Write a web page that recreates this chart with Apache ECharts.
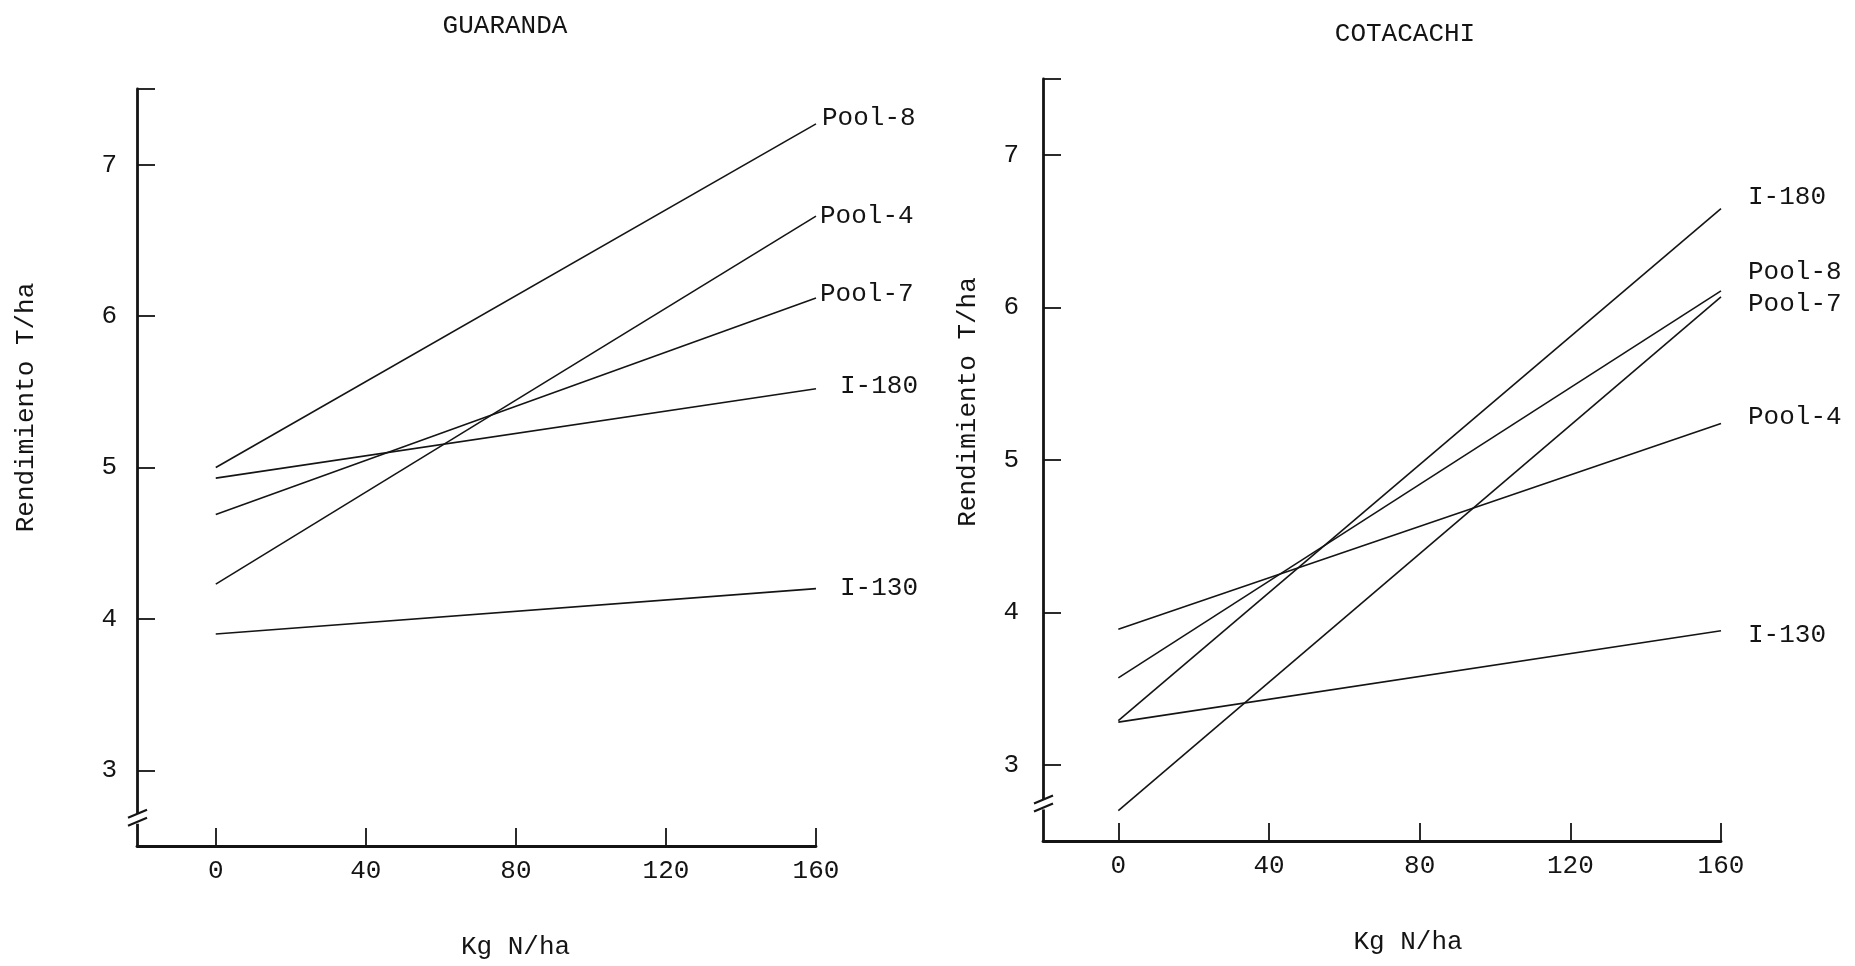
<!DOCTYPE html>
<html>
<head>
<meta charset="utf-8">
<script src="https://cdn.jsdelivr.net/npm/echarts@6/dist/echarts.min.js"></script>
<style>
html,body{margin:0;padding:0;background:#fff;}
#chart{width:1855px;height:966px;}
</style>
</head>
<body>
<div id="chart"></div>
<script>
// ---- data ----
const nitrogen = [0, 160];                 // Kg N/ha
const xTicks = [0, 40, 80, 120, 160];
const yTicks = [3, 4, 5, 6, 7];

const panelTitles = ['GUARANDA', 'COTACACHI'];

// GUARANDA (T/ha at 0 and 160 Kg N/ha)
const guarandaPool8 = [5.00, 7.27];
const guarandaPool4 = [4.23, 6.66];
const guarandaPool7 = [4.69, 6.12];
const guarandaI180  = [4.93, 5.52];
const guarandaI130  = [3.90, 4.20];

// COTACACHI (T/ha at 0 and 160 Kg N/ha)
const cotacachiI180  = [3.29, 6.65];
const cotacachiPool8 = [3.57, 6.11];
const cotacachiPool7 = [2.70, 6.07];
const cotacachiPool4 = [3.89, 5.24];
const cotacachiI130  = [3.28, 3.88];

// ---- chart ----
const FONT = '"Liberation Mono", "DejaVu Sans Mono", monospace';
const INK = '#141414';
const FS = 26;

function makeSeries(name, vals, gi, labelDist, labelDy) {
  return {
    type: 'line', name: name, xAxisIndex: gi, yAxisIndex: gi,
    symbol: 'none', showSymbol: false, silent: true, animation: false,
    lineStyle: { color: INK, width: 1.6 },
    endLabel: { show: true, formatter: name, distance: labelDist,
                offset: [0, labelDy], fontFamily: FONT, fontSize: FS, color: INK },
    data: nitrogen.map((x, i) => [x, vals[i]])
  };
}

function xAxisCfg(gi, min) {
  return {
    gridIndex: gi, type: 'value', min: min, max: 160,
    axisLine: { show: true, onZero: false, lineStyle: { color: INK, width: 2.8 } },
    axisTick: { show: true, inside: true, length: 18, customValues: xTicks,
                lineStyle: { color: INK, width: 1.8 } },
    axisLabel: { show: true, customValues: xTicks, margin: 12, fontFamily: FONT,
                 fontSize: FS, color: INK },
    splitLine: { show: false },
    name: 'Kg N/ha', nameLocation: 'middle', nameGap: 88,
    nameTextStyle: { fontFamily: FONT, fontSize: FS, color: INK,
                     padding: [0, 0, 0, gi === 0 ? 78 : 52] }
  };
}

function yAxisCfg(gi) {
  return {
    gridIndex: gi, type: 'value', min: 2.5, max: 7.5,
    axisLine: { show: true, onZero: false, lineStyle: { color: INK, width: 2.8 } },
    axisTick: { show: true, inside: true, length: 18, customValues: yTicks.concat([7.5]),
                lineStyle: { color: INK, width: 1.8 } },
    axisLabel: { show: true, customValues: yTicks, margin: gi === 0 ? 20 : 24,
                 fontFamily: FONT, fontSize: FS, color: INK },
    splitLine: { show: false },
    name: 'Rendimiento T/ha', nameLocation: 'middle', nameGap: gi === 0 ? 98 : 62,
    nameRotate: 90,
    nameTextStyle: { fontFamily: FONT, fontSize: FS, color: INK,
                     padding: [0, 0, 0, gi === 0 ? 120 : 116] }
  };
}

const chart = echarts.init(document.getElementById('chart'), null, { renderer: 'canvas' });

const option = {
  backgroundColor: '#ffffff',
  animation: false,
  title: [
    { text: panelTitles[0], left: 500, top: 8, textAlign: 'center',
      textStyle: { fontFamily: FONT, fontSize: FS, fontWeight: 'normal', color: INK } },
    { text: panelTitles[1], left: 1400, top: 16, textAlign: 'center',
      textStyle: { fontFamily: FONT, fontSize: FS, fontWeight: 'normal', color: INK } }
  ],
  grid: [
    { left: 137, top: 89, width: 679, height: 757 },
    { left: 1043, top: 79, width: 678, height: 762 }
  ],
  xAxis: [xAxisCfg(0, -21), xAxisCfg(1, -20)],
  yAxis: [yAxisCfg(0), yAxisCfg(1)],
  series: [
    makeSeries('Pool-8', guarandaPool8, 0, 6, -6),
    makeSeries('Pool-4', guarandaPool4, 0, 4, 0),
    makeSeries('Pool-7', guarandaPool7, 0, 4, -4),
    makeSeries('I-180', guarandaI180, 0, 24, -3),
    makeSeries('I-130', guarandaI130, 0, 24, -1),
    makeSeries('I-180', cotacachiI180, 1, 27, -11),
    makeSeries('Pool-8', cotacachiPool8, 1, 27, -19),
    makeSeries('Pool-7', cotacachiPool7, 1, 27, 7),
    makeSeries('Pool-4', cotacachiPool4, 1, 27, -6),
    makeSeries('I-130', cotacachiI130, 1, 27, 4)
  ]
};
chart.setOption(option);

// axis-break marks on the y axes (decoration)
function breakMark(gi, xMin, yVal) {
  const p = chart.convertToPixel({ gridIndex: gi }, [xMin, yVal]);
  const x = p[0], y = p[1];
  return [
    { type: 'rect', shape: { x: x - 6, y: y - 5, width: 12, height: 10 },
      style: { fill: '#ffffff' }, z: 100 },
    { type: 'line', shape: { x1: x - 9, y1: y - 1, x2: x + 10, y2: y - 9 },
      style: { stroke: INK, lineWidth: 2.2 }, z: 101 },
    { type: 'line', shape: { x1: x - 9, y1: y + 7, x2: x + 10, y2: y - 1 },
      style: { stroke: INK, lineWidth: 2.2 }, z: 101 }
  ];
}
chart.setOption({
  graphic: breakMark(0, -21, 2.68).concat(breakMark(1, -20, 2.74))
});
</script>
</body>
</html>
